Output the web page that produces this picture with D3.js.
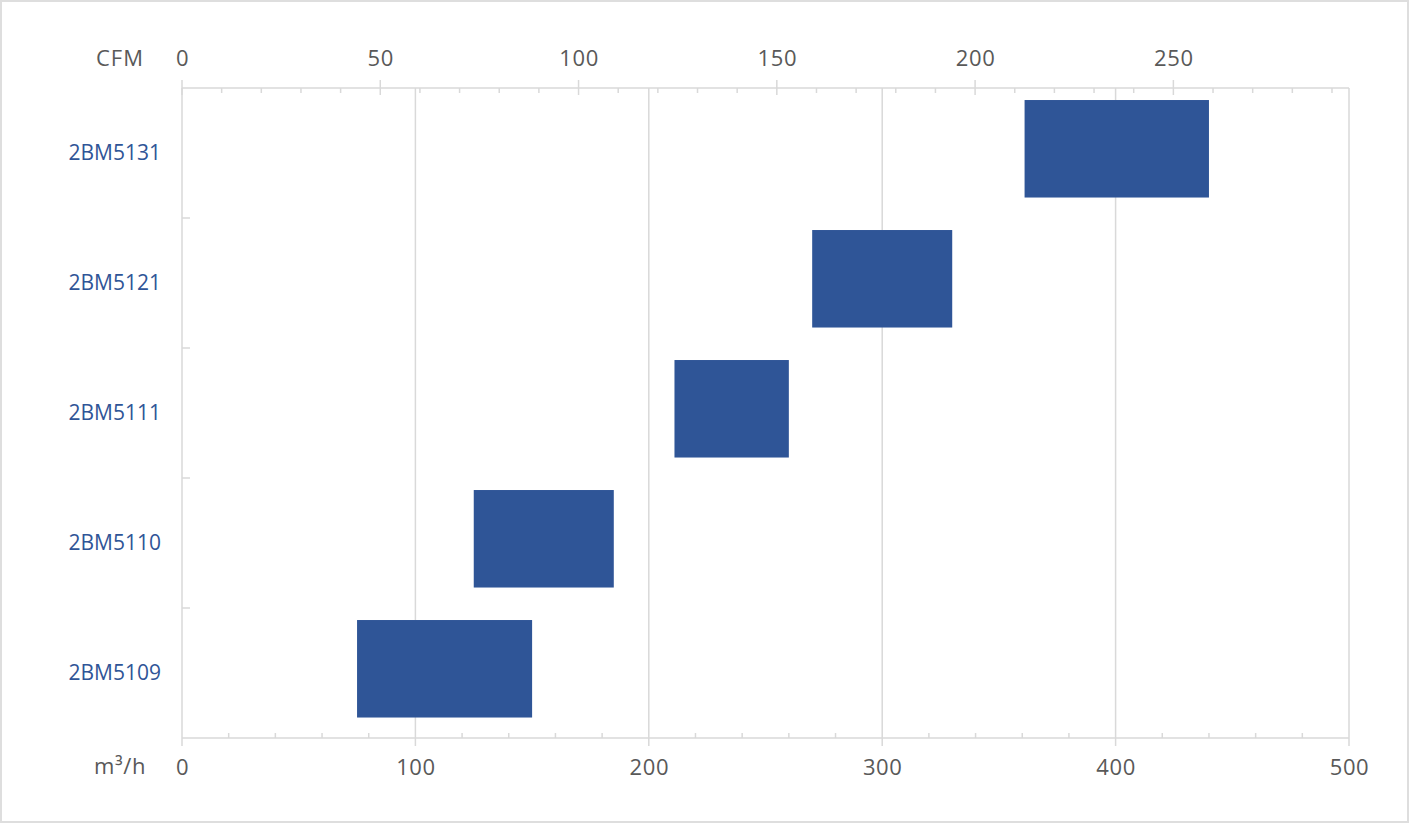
<!DOCTYPE html>
<html>
<head>
<meta charset="utf-8">
<script src="https://cdn.jsdelivr.net/npm/d3@7"></script>
<style>
  body { margin: 0; background: #fff; }
  svg { display: block; font-family: "Open Sans", sans-serif; }
</style>
</head>
<body>
<div class="canvas"></div>
<script>
// data
const models = ['2BM5131', '2BM5121', '2BM5111', '2BM5110', '2BM5109'];
const flowMin = [361, 270, 211, 125, 75];   // m3/h
const flowMax = [440, 330, 260, 185, 150];  // m3/h
const m3hTicks = [0, 100, 200, 300, 400, 500];
const cfmTicks = [0, 50, 100, 150, 200, 250];

const CFM_PER_M3H = 1 / 1.699;

const width = 1409;
const height = 823;
const margin = { top: 88, right: 60, bottom: 85, left: 182 };
const graphWidth = 1349 - margin.left;
const graphHeight = 738 - margin.top;

const gridColor = '#d9d9d9';
const textColor = '#595959';
const blue = '#2f5597';
const fontSize = 22;

const svg = d3.select('.canvas')
  .append('svg')
    .attr('width', width)
    .attr('height', height);

// outer frame
svg.append('rect')
  .attr('x', 1).attr('y', 1)
  .attr('width', width - 2).attr('height', height - 2)
  .attr('fill', '#fff')
  .attr('stroke', '#dedede')
  .attr('stroke-width', 2);

const graph = svg.append('g')
  .attr('transform', `translate(${margin.left}, ${margin.top})`);

// scales
const x = d3.scaleLinear()
  .domain([0, 500])
  .range([0, graphWidth]);

const xCfm = d3.scaleLinear()
  .domain([0, 500 * CFM_PER_M3H])
  .range([0, graphWidth]);

const yCat = d3.scaleBand()
  .domain(models)
  .range([0, graphHeight]);

const yBar = d3.scaleBand()
  .domain(models)
  .range([0, graphHeight])
  .paddingInner(0.25)
  .paddingOuter(0.125)
  .align(0.37);

// vertical gridlines
graph.selectAll('.grid')
  .data(m3hTicks)
  .enter()
  .append('line')
    .attr('x1', d => x(d)).attr('x2', d => x(d))
    .attr('y1', 0).attr('y2', graphHeight)
    .attr('stroke', gridColor)
    .attr('stroke-width', 1.5);

// top axis line + ticks (CFM)
graph.append('line')
  .attr('x1', 0).attr('x2', graphWidth)
  .attr('y1', 0).attr('y2', 0)
  .attr('stroke', gridColor).attr('stroke-width', 1.5);

const cfmMinor = d3.range(0, 500 * CFM_PER_M3H, 10).filter(d => d % 50 !== 0);
graph.selectAll('.cfm-minor')
  .data(cfmMinor)
  .enter()
  .append('line')
    .attr('x1', d => xCfm(d)).attr('x2', d => xCfm(d))
    .attr('y1', 0).attr('y2', 5)
    .attr('stroke', gridColor).attr('stroke-width', 1.5);

graph.selectAll('.cfm-major')
  .data(cfmTicks)
  .enter()
  .append('line')
    .attr('x1', d => xCfm(d)).attr('x2', d => xCfm(d))
    .attr('y1', -8).attr('y2', 7)
    .attr('stroke', gridColor).attr('stroke-width', 1.5);

// bottom axis line + ticks (m3/h)
graph.append('line')
  .attr('x1', 0).attr('x2', graphWidth)
  .attr('y1', graphHeight).attr('y2', graphHeight)
  .attr('stroke', gridColor).attr('stroke-width', 1.5);

const m3hMinor = d3.range(0, 500, 20).filter(d => d % 100 !== 0);
graph.selectAll('.m3h-minor')
  .data(m3hMinor)
  .enter()
  .append('line')
    .attr('x1', d => x(d)).attr('x2', d => x(d))
    .attr('y1', graphHeight - 5).attr('y2', graphHeight)
    .attr('stroke', gridColor).attr('stroke-width', 1.5);

graph.selectAll('.m3h-major')
  .data(m3hTicks)
  .enter()
  .append('line')
    .attr('x1', d => x(d)).attr('x2', d => x(d))
    .attr('y1', graphHeight).attr('y2', graphHeight + 8)
    .attr('stroke', gridColor).attr('stroke-width', 1.5);

// left axis: category boundary ticks
graph.selectAll('.cat-tick')
  .data(models.slice(1))
  .enter()
  .append('line')
    .attr('x1', 0).attr('x2', 8)
    .attr('y1', d => yCat(d)).attr('y2', d => yCat(d))
    .attr('stroke', gridColor).attr('stroke-width', 1.5);

// bars
const rows = models.map((m, i) => ({ model: m, min: flowMin[i], max: flowMax[i] }));

graph.selectAll('rect.bar')
  .data(rows)
  .enter()
  .append('rect')
    .attr('class', 'bar')
    .attr('x', d => x(d.min))
    .attr('y', d => yBar(d.model))
    .attr('width', d => x(d.max) - x(d.min))
    .attr('height', yBar.bandwidth())
    .attr('fill', blue);

// labels via axes
const topAxis = d3.axisTop(xCfm)
  .tickValues(cfmTicks)
  .tickSize(0)
  .tickPadding(22);

const bottomAxis = d3.axisBottom(x)
  .tickValues(m3hTicks)
  .tickSize(0)
  .tickPadding(21);

const leftAxis = d3.axisLeft(yCat)
  .tickSize(0)
  .tickPadding(21);

const topGroup = graph.append('g').call(topAxis);
const bottomGroup = graph.append('g')
  .attr('transform', `translate(0, ${graphHeight})`)
  .call(bottomAxis);
const leftGroup = graph.append('g').call(leftAxis);

[topGroup, bottomGroup, leftGroup].forEach(g => {
  g.select('.domain').remove();
  g.selectAll('text')
    .attr('font-family', '"Open Sans", sans-serif')
    .attr('font-size', fontSize);
});

topGroup.selectAll('text').attr('fill', textColor).attr('letter-spacing', 0.6);
bottomGroup.selectAll('text').attr('fill', textColor).attr('letter-spacing', 0.6);
leftGroup.selectAll('text').attr('fill', blue).attr('font-size', 21);

// unit labels
svg.append('text')
  .attr('x', 144).attr('y', 66)
  .attr('text-anchor', 'end')
  .attr('font-size', fontSize)
  .attr('letter-spacing', 1)
  .attr('fill', textColor)
  .text('CFM');

svg.append('text')
  .attr('x', 146).attr('y', 774)
  .attr('text-anchor', 'end')
  .attr('font-size', fontSize)
  .attr('letter-spacing', 0.6)
  .attr('fill', textColor)
  .text('m³/h');
</script>
</body>
</html>
